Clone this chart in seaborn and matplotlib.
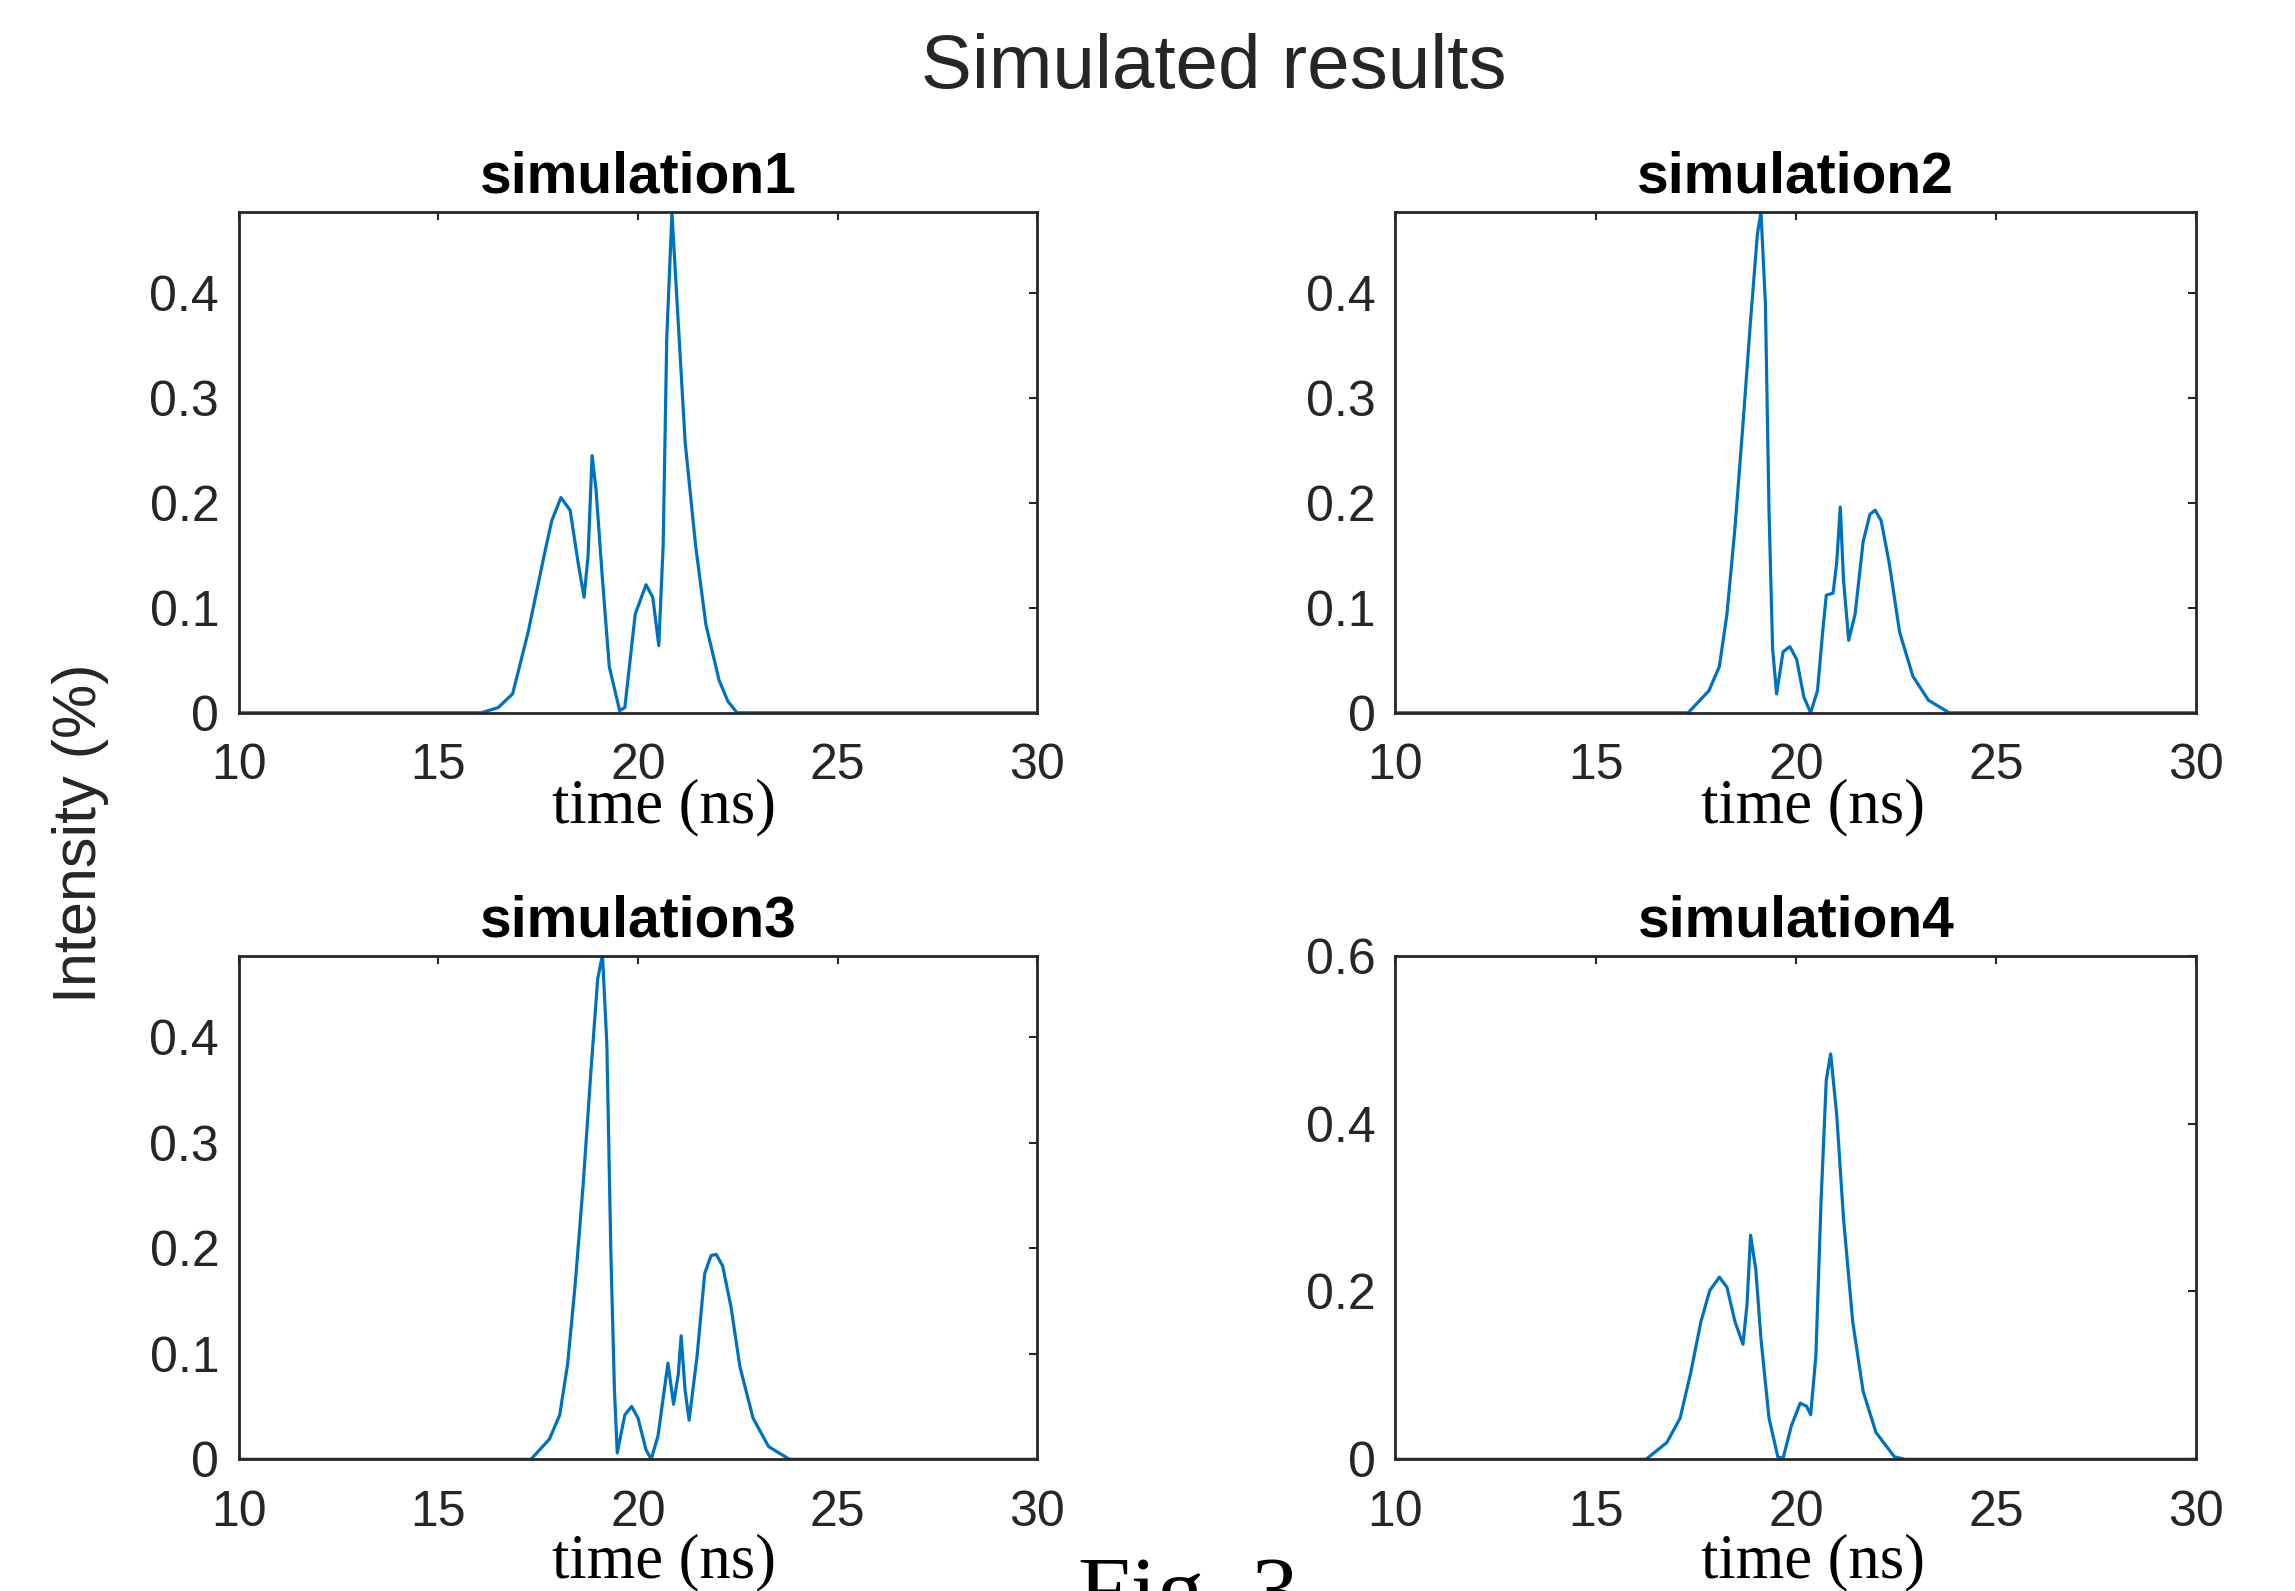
import matplotlib
matplotlib.use("Agg")
import pandas as pd
import matplotlib.pyplot as plt
import seaborn as sns

# values (time in ns, intensity)
sim1_t = [10, 16.08, 16.5, 16.86, 17.25, 17.65, 17.84, 18.07, 18.3, 18.5, 18.65, 18.75, 18.85, 18.95,
          19.11, 19.28, 19.54, 19.67, 19.93, 20.2, 20.37, 20.52, 20.63, 20.72, 20.85, 20.98, 21.18,
          21.44, 21.7, 22.03, 22.25, 22.48, 30]
sim1_i = [0, 0, 0.005, 0.018, 0.077, 0.15, 0.183, 0.205, 0.193, 0.143, 0.110, 0.15, 0.245, 0.212,
          0.127, 0.044, 0.002, 0.005, 0.094, 0.122, 0.11, 0.064, 0.16, 0.357, 0.476, 0.39, 0.258,
          0.16, 0.084, 0.031, 0.011, 0, 0]

sim2_t = [10, 17.31, 17.83, 18.09, 18.28, 18.48, 18.68, 18.87, 19.04, 19.13, 19.24, 19.33, 19.42,
          19.52, 19.68, 19.85, 20.02, 20.2, 20.37, 20.54, 20.67, 20.76, 20.93, 21.02, 21.11, 21.19,
          21.32, 21.48, 21.68, 21.85, 21.98, 22.13, 22.33, 22.59, 22.92, 23.31, 23.83, 30]
sim2_i = [0, 0, 0.021, 0.044, 0.094, 0.176, 0.275, 0.374, 0.456, 0.477, 0.39, 0.193, 0.061,
          0.018, 0.058, 0.063, 0.051, 0.015, 0, 0.021, 0.077, 0.112, 0.114, 0.143, 0.196, 0.127,
          0.069, 0.094, 0.163, 0.189, 0.193, 0.183, 0.143, 0.077, 0.035, 0.012, 0, 0]

sim3_t = [10, 17.32, 17.78, 18.04, 18.24, 18.43, 18.63, 18.82, 18.99, 19.11, 19.22, 19.32, 19.41,
          19.48, 19.67, 19.84, 20.0, 20.2, 20.33, 20.5, 20.63, 20.75, 20.89, 21.01, 21.08, 21.18,
          21.28, 21.48, 21.67, 21.83, 21.96, 22.12, 22.33, 22.55, 22.88, 23.27, 23.79, 30]
sim3_i = [0, 0, 0.019, 0.042, 0.091, 0.167, 0.262, 0.367, 0.455, 0.478, 0.393, 0.196, 0.065,
          0.006, 0.042, 0.05, 0.039, 0.009, 0, 0.022, 0.058, 0.091, 0.052, 0.081, 0.117, 0.065,
          0.037, 0.098, 0.176, 0.193, 0.194, 0.183, 0.144, 0.088, 0.039, 0.012, 0, 0]

sim4_t = [10, 16.26, 16.78, 17.11, 17.37, 17.63, 17.85, 18.09, 18.28, 18.48, 18.68, 18.78, 18.87,
          19.0, 19.13, 19.33, 19.55, 19.68, 19.89, 20.11, 20.27, 20.37, 20.5, 20.63, 20.76, 20.87,
          21.02, 21.19, 21.42, 21.68, 22.0, 22.46, 22.72, 30]
sim4_i = [0, 0, 0.02, 0.049, 0.102, 0.164, 0.201, 0.217, 0.205, 0.164, 0.137, 0.184, 0.267,
          0.226, 0.143, 0.049, 0.003, 0.001, 0.04, 0.067, 0.063, 0.053, 0.123, 0.308, 0.452, 0.483,
          0.411, 0.287, 0.164, 0.081, 0.032, 0.003, 0, 0]

titles = ["simulation1", "simulation2", "simulation3", "simulation4"]
xticks = [10, 15, 20, 25, 30]
yticks_a = [0, 0.1, 0.2, 0.3, 0.4]
yticks_b = [0, 0.2, 0.4, 0.6]

sns.set_style("white")
plt.rcParams['font.family'] = ['Liberation Sans', 'DejaVu Sans']

gray = "#262626"
blue = "#0072BD"

fig = plt.figure(figsize=(22.95, 15.91), dpi=100)

# [left, bottom, width, height] in figure fractions
positions = [
    [0.104, 0.552, 0.348, 0.3147],
    [0.608, 0.552, 0.349, 0.3147],
    [0.104, 0.0828, 0.348, 0.3165],
    [0.608, 0.0828, 0.349, 0.3165],
]
series = [(sim1_t, sim1_i), (sim2_t, sim2_i), (sim3_t, sim3_i), (sim4_t, sim4_i)]
label_x = [0.532, 0.522, 0.532, 0.522]

for k, (t, y) in enumerate(series):
    ax = fig.add_axes(positions[k])
    df = pd.DataFrame({"time": t, "intensity": y})
    sns.lineplot(data=df, x="time", y="intensity", ax=ax, color=blue, linewidth=2.3, sort=False)
    ax.set_xlim(10, 30)
    if k == 3:
        ax.set_ylim(0, 0.6)
        ax.set_yticks(yticks_b)
        ax.set_yticklabels(["0", "0.2", "0.4", "0.6"])
    else:
        ax.set_ylim(0, 0.477)
        ax.set_yticks(yticks_a)
        ax.set_yticklabels(["0", "0.1", "0.2", "0.3", "0.4"])
    ax.set_xticks(xticks)
    ax.set_xticklabels([str(v) for v in xticks])
    ax.tick_params(direction="in", length=6, width=1.5, colors=gray, labelsize=36,
                   top=True, right=True, pad=14)
    ax.tick_params(axis="x", pad=22)
    for s in ax.spines.values():
        s.set_visible(True)
        s.set_color(gray)
        s.set_linewidth(2)
    ax.set_title(titles[k], fontsize=41, fontweight="bold", color="black", pad=14)
    ax.set_xlabel("time (ns)", family=["Liberation Serif", "DejaVu Serif"], fontsize=45,
                  color="black", va="center")
    ax.xaxis.set_label_coords(label_x[k], -0.19 if k < 2 else -0.204)
    ax.set_ylabel("")

fig.text(0.529, 0.957, "Simulated results", ha="center", va="center", fontsize=55, color=gray)
fig.text(0.035, 0.476, "Intensity (%)", ha="center", va="center", rotation=90, fontsize=44,
         color=gray)
fig.text(0.518, -0.019, "Fig. 3", ha="center", va="baseline",
         family=["Liberation Serif", "DejaVu Serif"], fontsize=68, color="black")

fig.savefig("out.png", dpi=100)
